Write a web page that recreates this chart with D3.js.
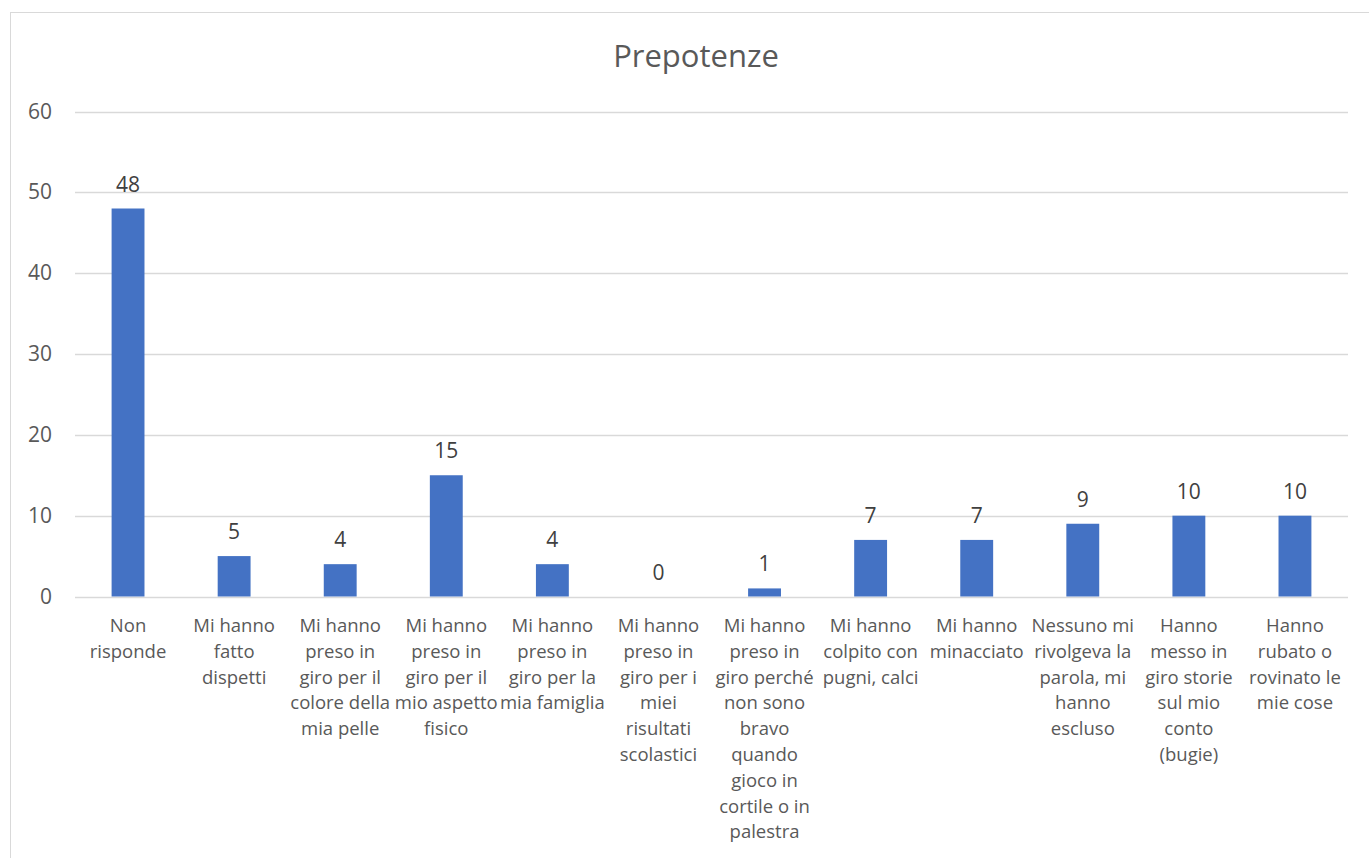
<!DOCTYPE html>
<html>
<head>
<meta charset="utf-8">
<script src="https://cdn.jsdelivr.net/npm/d3@7"></script>
<style>
  html, body { margin: 0; padding: 0; background: #fff; }
  svg { display: block; }
  text { font-family: "Open Sans", sans-serif; fill: #595959; }
</style>
</head>
<body>
<svg id="chart" width="1369" height="858"></svg>
<script>
const title = "Prepotenze";
const categories = [
  "Non\nrisponde",
  "Mi hanno\nfatto\ndispetti",
  "Mi hanno\npreso in\ngiro per il\ncolore della\nmia pelle",
  "Mi hanno\npreso in\ngiro per il\nmio aspetto\nfisico",
  "Mi hanno\npreso in\ngiro per la\nmia famiglia",
  "Mi hanno\npreso in\ngiro per i\nmiei\nrisultati\nscolastici",
  "Mi hanno\npreso in\ngiro perché\nnon sono\nbravo\nquando\ngioco in\ncortile o in\npalestra",
  "Mi hanno\ncolpito con\npugni, calci",
  "Mi hanno\nminacciato",
  "Nessuno mi\nrivolgeva la\nparola, mi\nhanno\nescluso",
  "Hanno\nmesso in\ngiro storie\nsul mio\nconto\n(bugie)",
  "Hanno\nrubato o\nrovinato le\nmie cose"
];
const values = [48, 5, 4, 15, 4, 0, 1, 7, 7, 9, 10, 10];
const yTicks = [0, 10, 20, 30, 40, 50, 60];

const svg = d3.select("#chart");

// chart border
svg.append("rect")
  .attr("x", 10.5).attr("y", 12.5)
  .attr("width", 1400).attr("height", 900)
  .attr("fill", "none").attr("stroke", "#d9d9d9").attr("stroke-width", 1);

const x = d3.scaleBand()
  .domain(categories)
  .range([75, 1348])
  .paddingInner(0.69)
  .paddingOuter(0.345);

const y = d3.scaleLinear()
  .domain([0, 60])
  .range([596.5, 111.5]);

// gridlines
svg.append("g")
  .selectAll("line")
  .data(yTicks)
  .join("line")
  .attr("x1", 75).attr("x2", 1348)
  .attr("y1", d => Math.round(y(d)) + 0.5)
  .attr("y2", d => Math.round(y(d)) + 0.5)
  .attr("stroke", "#d9d9d9").attr("stroke-width", 1.5);

// y tick labels
svg.append("g")
  .selectAll("text")
  .data(yTicks)
  .join("text")
  .attr("x", 52)
  .attr("y", d => y(d) + 7)
  .attr("text-anchor", "end")
  .attr("font-size", 21)
  .text(d => d);

// bars
svg.append("g")
  .selectAll("rect")
  .data(values)
  .join("rect")
  .attr("x", (d, i) => x(categories[i]))
  .attr("width", x.bandwidth())
  .attr("y", d => y(d))
  .attr("height", d => y(0) - y(d))
  .attr("fill", "#4472c4");

// value labels
svg.append("g")
  .selectAll("text")
  .data(values)
  .join("text")
  .attr("x", (d, i) => x(categories[i]) + x.bandwidth() / 2)
  .attr("y", d => y(d) - 17)
  .attr("text-anchor", "middle")
  .attr("font-size", 21)
  .attr("fill", "#404040")
  .style("fill", "#404040")
  .text(d => d);

// category labels
const cat = svg.append("g")
  .selectAll("text")
  .data(categories)
  .join("text")
  .attr("text-anchor", "middle")
  .attr("font-size", 18.5)
  .attr("x", d => x(d) + x.bandwidth() / 2)
  .attr("y", 632);
cat.each(function(d) {
  const t = d3.select(this);
  const cx = x(d) + x.bandwidth() / 2;
  d.split("\n").forEach((line, k) => {
    t.append("tspan")
      .attr("x", cx)
      .attr("y", 632 + k * 25.8)
      .text(line);
  });
});

// title
svg.append("text")
  .attr("x", 696)
  .attr("y", 67)
  .attr("text-anchor", "middle")
  .attr("font-size", 31)
  .text(title);
</script>
</body>
</html>
